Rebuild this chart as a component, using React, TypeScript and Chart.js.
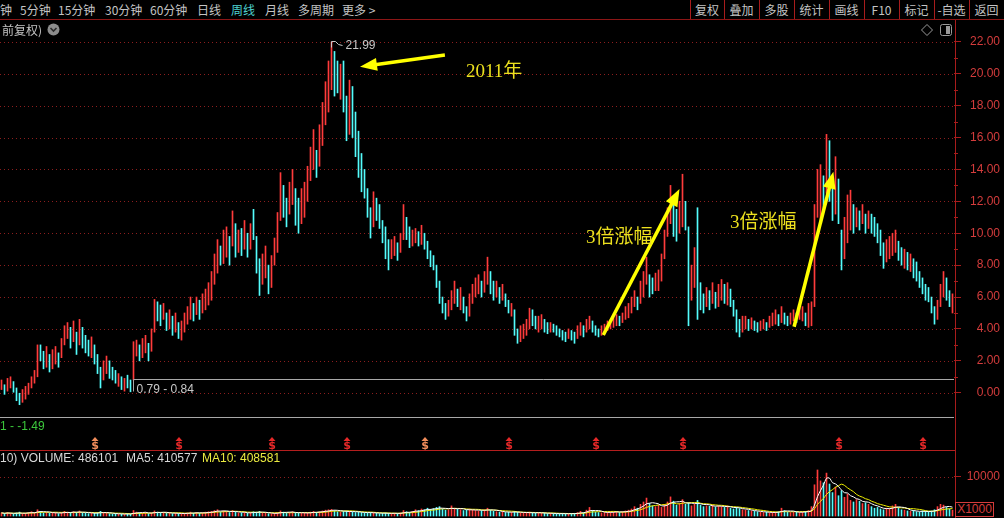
import React, { useEffect, useRef } from "react";
import { Chart, registerables } from "chart.js";

Chart.register(...registerables);

// ---------------- data (weekly, forward-adjusted) ----------------
const lows: number[] = [
  0.2, -0.1, 0.1, 0.3, 0.0, -0.5, -0.75, -0.6, -0.4, -0.1,
  0.3, 0.6, 1.0, 2.0, 1.5, 1.6, 1.3, 1.5, 1.8, 1.6,
  2.2, 3.0, 3.4, 2.8, 3.2, 2.4, 3.0, 2.8, 2.5, 2.3,
  2.2, 1.8, 1.2, 0.3, 0.8, 1.2, 0.9, 0.8, 0.6, 0.4,
  0.2, 0.1, 0.3, 0.06, 0.8, 2.3, 2.0, 2.2, 2.5, 2.0,
  2.6, 3.8, 4.5, 4.2, 4.6, 3.9, 4.0, 3.6, 3.8, 3.4,
  3.3, 3.8, 4.3, 4.6, 4.5, 4.9, 4.6, 5.0, 5.2, 5.5,
  5.8, 6.8, 7.5, 8.0, 8.1, 8.5, 8.0, 9.2, 8.5, 8.8,
  8.6, 9.0, 8.5, 9.0, 9.6, 7.5, 6.1, 6.8, 7.2, 6.2,
  6.6, 8.0, 8.8, 10.8, 11.0, 10.4, 11.2, 11.8, 10.5, 10.0,
  10.6, 11.0, 12.0, 13.3, 14.0, 13.5, 14.2, 15.5, 16.8, 17.6,
  19.0, 18.6, 18.8, 18.4, 17.6, 15.8, 16.2, 16.0, 14.8, 13.5,
  12.6, 12.2, 11.0, 9.7, 10.4, 10.8, 10.3, 9.4, 8.4, 7.7,
  8.4, 8.6, 8.3, 8.8, 9.6, 9.6, 9.1, 9.2, 9.4, 9.2,
  9.3, 9.0, 8.4, 7.9, 7.7, 6.6, 5.6, 5.0, 4.6, 4.8,
  5.2, 5.6, 5.4, 5.2, 5.0, 4.5, 4.8, 5.6, 6.0, 6.2,
  6.0, 6.3, 6.8, 6.2, 5.8, 6.0, 5.6, 5.8, 5.4, 5.0,
  4.8, 3.6, 3.1, 3.2, 3.4, 3.6, 4.0, 4.2, 4.0, 3.8,
  4.0, 3.8, 3.7, 3.8, 3.8, 3.6, 3.5, 3.3, 3.2, 3.4,
  3.3, 3.1, 3.4, 3.6, 3.5, 3.8, 4.0, 3.8, 3.6, 3.5,
  3.6, 3.8, 3.9, 4.0, 4.1, 4.2, 4.2, 4.4, 4.6, 4.7,
  5.0, 5.4, 5.2, 5.6, 6.0, 6.8, 6.0, 6.2, 6.4, 6.4,
  7.0, 8.4, 9.8, 10.6, 9.8, 9.5, 10.0, 10.4, 10.2, 4.2,
  5.8, 6.6, 4.6, 5.2, 5.0, 5.4, 5.2, 5.6, 5.3, 5.4,
  5.8, 5.6, 5.5, 5.4, 4.8, 3.8, 3.5, 3.8, 4.0, 3.9,
  4.0, 3.9, 3.8, 3.9, 4.0, 3.9, 4.1, 4.2, 4.3, 4.2,
  4.4, 4.3, 4.2, 4.3, 4.5, 4.4, 4.6, 4.5, 4.2, 4.1,
  4.2, 5.4, 11.0, 10.6, 11.4, 12.5, 12.0, 10.8, 11.2, 10.6,
  7.7, 8.4, 9.4, 10.2, 10.0, 10.4, 10.2, 10.6, 10.0, 10.3,
  10.0, 9.8, 9.4, 8.6, 7.8, 8.2, 8.4, 8.6, 8.8, 8.3,
  8.0, 7.8, 7.7, 7.6, 7.2, 7.0, 6.6, 6.2, 5.8, 5.7,
  5.0, 4.3, 4.6, 5.4, 6.0, 5.8, 5.4, 5.0,
];

const highs: number[] = [
  0.8, 0.5, 0.9, 1.0, 0.7, 0.3, 0.0, 0.2, 0.4, 0.6,
  1.0, 1.4, 3.0, 3.0, 2.6, 2.9, 2.4, 2.7, 2.9, 2.5,
  3.4, 4.2, 4.4, 4.1, 4.5, 3.8, 4.6, 4.1, 3.6, 3.3,
  3.5, 3.0, 2.4, 1.6, 2.0, 2.3, 2.0, 1.6, 1.4, 1.2,
  1.0, 0.9, 1.1, 0.8, 3.2, 3.3, 3.0, 3.4, 3.6, 3.1,
  4.0, 5.85, 5.7, 5.5, 5.6, 5.0, 5.2, 4.8, 5.0, 4.4,
  4.5, 5.0, 5.4, 6.0, 5.6, 6.0, 5.8, 6.2, 6.5, 6.9,
  7.6, 8.7, 9.6, 9.2, 10.2, 10.4, 9.8, 11.4, 10.6, 10.2,
  10.3, 10.8, 10.0, 10.6, 11.5, 9.8, 8.4, 8.7, 9.2, 8.0,
  8.6, 9.7, 11.3, 13.8, 13.0, 12.2, 13.2, 14.0, 12.8, 12.2,
  12.8, 13.2, 14.2, 15.4, 16.5, 15.2, 16.8, 18.2, 19.5, 20.8,
  21.99, 21.4, 20.8, 20.6, 20.8, 18.6, 19.6, 19.2, 17.6, 16.4,
  15.0, 14.0, 12.8, 11.6, 12.6, 12.2, 11.8, 10.8, 10.4, 9.6,
  9.6, 9.8, 9.4, 10.0, 11.8, 11.0, 10.4, 10.2, 10.3, 10.1,
  10.5, 10.0, 9.5, 8.9, 8.6, 8.0, 7.0, 6.0, 5.6, 5.8,
  6.4, 7.0, 6.5, 6.6, 6.0, 5.4, 6.2, 6.8, 7.2, 7.4,
  7.0, 7.6, 8.5, 7.6, 7.0, 7.0, 6.6, 6.8, 6.2, 5.8,
  5.6, 5.2, 4.0, 4.2, 4.3, 4.6, 5.3, 5.2, 4.8, 4.8,
  4.9, 4.6, 4.4, 4.4, 4.3, 4.2, 4.0, 3.9, 3.8, 4.0,
  3.9, 3.8, 4.2, 4.4, 4.2, 4.6, 4.8, 4.5, 4.2, 4.0,
  4.2, 4.3, 4.5, 4.6, 4.8, 4.9, 4.8, 5.0, 5.4, 5.6,
  6.0, 6.4, 6.0, 7.0, 7.6, 8.5, 7.4, 7.2, 7.5, 7.7,
  8.7, 10.2, 11.6, 13.0, 12.2, 11.5, 12.0, 13.7, 12.0, 10.4,
  8.0, 9.1, 11.6, 6.9, 6.2, 6.6, 6.4, 6.9, 6.3, 6.8,
  7.1, 6.8, 6.9, 6.5, 5.8, 5.2, 4.6, 4.8, 4.8, 4.6,
  4.7, 4.5, 4.4, 4.5, 4.6, 4.4, 4.8, 5.0, 5.2, 4.9,
  5.4, 5.0, 4.8, 5.0, 5.2, 5.0, 5.3, 5.4, 5.0, 5.6,
  5.7, 11.8, 14.0, 14.3, 13.6, 16.2, 15.8, 13.6, 14.8, 13.4,
  10.2, 11.0, 12.4, 12.7, 11.8, 11.6, 11.4, 11.8, 11.2, 11.4,
  11.2, 11.0, 10.6, 10.2, 9.4, 9.6, 9.8, 10.0, 10.2, 9.5,
  9.1, 9.0, 8.8, 8.7, 8.4, 8.2, 7.6, 7.2, 6.8, 6.6,
  6.0, 5.4, 5.8, 6.8, 7.6, 7.2, 6.4, 6.2,
];

// u = rising week (red), d = falling week (cyan)
const dirs: string = [
  "uduuddduuu", "uuudduduud", "uuudududdd", "uddduudddu", "dudduuduud",
  "uuddududud", "uuuududuuu", "uuuduududu", "dududdduud", "uuuudduudd",
  "uuuuuduuuu", "uddudduddd", "dddduddddd", "uuduudduud", "uddddddddu",
  "uududduuuu", "duuddududd", "udduuuuddu", "uddudddddu", "dduuduuddd",
  "uuuuuuduuu", "uuduuudduu", "uuuudduudd", "uudddududu", "ududddduud",
  "udduuduuud", "udduuduudu", "uuuududdud", "duuudududu", "ddddduuuud",
  "dududddddd", "dduuuddu",
].join("");

// weekly volume, in units of 1000 (axis marked X1000)
const volumes: number[] = [
  0.8, 0.6, 0.9, 0.7, 0.5, 0.8, 1.0, 0.6, 0.7, 0.9,
  1.1, 0.9, 1.6, 1.2, 0.8, 0.9, 0.7, 0.8, 0.9, 0.6,
  0.9, 1.2, 1.0, 0.8, 1.1, 0.9, 1.3, 0.8, 0.7, 0.6,
  0.7, 0.8, 0.9, 1.2, 0.8, 0.7, 0.6, 0.5, 0.6, 0.5,
  0.5, 0.4, 0.6, 0.5, 1.4, 1.0, 0.8, 0.7, 0.9, 0.6,
  0.8, 1.3, 1.0, 0.8, 0.9, 0.7, 0.8, 0.6, 0.7, 0.6,
  0.6, 0.7, 0.8, 1.0, 0.7, 0.9, 0.7, 0.8, 1.0, 1.1,
  1.2, 1.4, 1.6, 1.0, 1.3, 1.2, 0.9, 1.4, 1.0, 0.8,
  0.8, 0.9, 0.7, 0.9, 1.1, 1.0, 1.2, 0.8, 0.7, 0.6,
  0.6, 0.7, 0.9, 1.3, 1.0, 0.8, 0.9, 1.1, 0.8, 0.7,
  0.7, 0.8, 0.9, 1.0, 1.2, 0.9, 1.1, 1.3, 1.5, 1.6,
  1.7, 1.4, 1.1, 1.0, 1.2, 1.3, 1.2, 1.0, 0.9, 1.0,
  0.9, 0.8, 0.8, 0.9, 0.8, 0.7, 0.6, 0.7, 0.8, 0.7,
  0.6, 0.7, 0.6, 0.8, 1.4, 1.1, 0.9, 1.2, 1.6, 1.4,
  1.8, 1.6, 2.0, 1.7, 1.9, 2.2, 2.4, 1.8, 1.5, 1.6,
  2.6, 2.0, 1.7, 1.6, 1.4, 1.5, 1.8, 1.6, 1.4, 1.3,
  1.4, 1.6, 2.0, 1.5, 1.2, 1.1, 1.0, 1.1, 0.9, 1.0,
  0.9, 1.2, 1.0, 0.8, 0.7, 0.8, 1.0, 0.9, 0.7, 0.8,
  0.7, 0.8, 0.6, 0.7, 0.6, 0.5, 0.6, 0.7, 0.6, 0.5,
  0.6, 0.7, 0.9, 1.2, 0.8, 1.5, 2.2, 1.4, 1.0, 0.9,
  0.8, 0.9, 1.0, 1.1, 1.0, 1.2, 0.9, 1.1, 1.3, 1.5,
  1.8, 2.4, 2.0, 3.0, 3.6, 4.6, 3.2, 2.6, 2.4, 2.8,
  2.2, 3.0, 3.6, 4.9, 3.8, 2.8, 3.2, 4.2, 3.0, 3.4,
  2.6, 3.0, 4.0, 2.8, 2.4, 2.6, 2.5, 2.8, 2.3, 2.6,
  2.4, 2.2, 2.6, 2.0, 1.8, 2.2, 1.9, 1.6, 1.5, 1.4,
  1.3, 1.2, 1.1, 1.0, 0.9, 1.0, 0.8, 0.9, 1.0, 1.1,
  2.0, 1.4, 1.0, 0.9, 1.0, 1.1, 0.9, 1.0, 1.2, 1.4,
  2.4, 8.0, 11.8, 9.0, 8.5, 11.0, 8.2, 6.0, 7.4, 5.2,
  6.5, 4.8, 5.6, 4.0, 3.6, 4.2, 3.8, 3.2, 3.4, 3.0,
  2.4, 2.0, 2.2, 1.8, 1.6, 2.0, 1.9, 2.6, 3.0, 2.2,
  1.6, 1.5, 1.3, 1.2, 1.4, 1.1, 1.0, 1.3, 1.2, 1.1,
  1.3, 1.6, 2.4, 3.0, 2.8, 2.2, 1.8, 1.5,
];

const priceTicks = [0, 2, 4, 6, 8, 10, 12, 14, 16, 18, 20, 22];
const volumeTicks = [10];

const dividendIdx = [31, 59, 90, 115, 141, 169, 198, 227, 279, 307];
const dividendKind = ["o", "r", "r", "r", "o", "r", "r", "r", "r", "r"];

const peakIdx = 110;
const peakText = "21.99";
const rangeIdx = 44;
const rangeValue = 0.84;
const rangeText = "0.79 - 0.84";
const floorValue = -1.49;
const floorText = "1 - -1.49";

// annotation arrows / notes in (week index, price)
const arrowFrom = [[147.8, 21.17], [200.6, 3.62], [264.2, 4.14]];
const arrowTo = [[119.5, 20.44], [226.0, 12.77], [277.3, 13.86]];
const noteTexts = ["2011年", "3倍涨幅", "3倍涨幅"];
const noteAt = [[154.8, 20.1], [194.8, 9.7], [242.8, 10.64]];

const periodTabs = ["钟", "5分钟", "15分钟", "30分钟", "60分钟", "日线", "周线", "月线", "多周期", "更多 >"];
const activeTab = "周线";
const toolButtons = ["复权", "叠加", "多股", "统计", "画线", "F10", "标记", "-自选", "返回"];
const volHeader = { volume: 486101, ma5: 410577, ma10: 408581 };

// ---------------- layout / style ----------------
const UP = "#ff3b3b";
const DOWN = "#54fcfc";
const AXIS_RED = "#a81c1c";
const LABEL_RED = "#d43c3c";
const GRID_RED = "#8c1e1e";
const tabX = [0, 20, 58, 105, 150, 197, 231, 265, 298, 342];
const sepX = [690, 724, 759, 794, 829, 864, 899, 934, 969, 1004];

const labels = lows.map((_, i) => String(i));
const candleColors = lows.map((_, i) => (dirs[i] === "u" ? UP : DOWN));

function movingAvg(arr: number[], n: number) {
  return arr.map((_, i) => {
    const s = Math.max(0, i - n + 1);
    let t = 0;
    for (let k = s; k <= i; k++) t += arr[k];
    return t / (i - s + 1);
  });
}

function drawArrow(ctx: CanvasRenderingContext2D, x1: number, y1: number, x2: number, y2: number) {
  const ang = Math.atan2(y2 - y1, x2 - x1);
  const L = 17, W = 6.5;
  const bx = x2 - L * Math.cos(ang);
  const by = y2 - L * Math.sin(ang);
  ctx.strokeStyle = "#ffff00";
  ctx.fillStyle = "#ffff00";
  ctx.lineWidth = 3.5;
  ctx.lineCap = "butt";
  ctx.beginPath();
  ctx.moveTo(x1, y1);
  ctx.lineTo(bx + Math.cos(ang) * 2, by + Math.sin(ang) * 2);
  ctx.stroke();
  ctx.beginPath();
  ctx.moveTo(x2, y2);
  ctx.lineTo(bx - W * Math.sin(ang), by + W * Math.cos(ang));
  ctx.lineTo(bx + W * Math.sin(ang), by - W * Math.cos(ang));
  ctx.closePath();
  ctx.fill();
}

const priceDecor = {
  id: "priceDecor",
  beforeDatasetsDraw(chart: any) {
    const { ctx, chartArea: a, scales } = chart;
    const y = scales.y;
    ctx.save();
    ctx.strokeStyle = GRID_RED;
    ctx.lineWidth = 1;
    ctx.setLineDash([1, 3]);
    priceTicks.forEach((v) => {
      const py = Math.round(y.getPixelForValue(v)) + 0.5;
      ctx.beginPath();
      ctx.moveTo(a.left, py);
      ctx.lineTo(a.right, py);
      ctx.stroke();
    });
    ctx.restore();
  },
  afterDatasetsDraw(chart: any) {
    const { ctx, chartArea: a, scales } = chart;
    const x = scales.x, y = scales.y;
    ctx.save();
    // minor ticks
    ctx.strokeStyle = AXIS_RED;
    ctx.lineWidth = 1;
    for (let v = 1; v < 23; v += 2) {
      const py = Math.round(y.getPixelForValue(v)) + 0.5;
      ctx.beginPath();
      ctx.moveTo(a.right, py);
      ctx.lineTo(a.right + 4, py);
      ctx.stroke();
    }
    // range lines
    ctx.strokeStyle = "#a8a8a8";
    const ry = Math.round(y.getPixelForValue(rangeValue)) + 0.5;
    const rx = Math.round(x.getPixelForValue(rangeIdx)) - 0.5;
    ctx.beginPath();
    ctx.moveTo(rx, ry + 12);
    ctx.lineTo(rx, ry);
    ctx.lineTo(a.right, ry);
    ctx.stroke();
    const fy = Math.round(y.getPixelForValue(floorValue)) + 0.5;
    ctx.beginPath();
    ctx.moveTo(a.left, fy);
    ctx.lineTo(a.right, fy);
    ctx.stroke();
    ctx.font = '12px "Liberation Sans", Arial, sans-serif';
    ctx.textBaseline = "middle";
    ctx.textAlign = "left";
    ctx.fillStyle = "#c8c8c8";
    ctx.fillText(rangeText, rx + 3, ry + 10);
    ctx.fillStyle = "#3cc83c";
    ctx.fillText(floorText, a.left, fy + 9);
    // peak flag
    const px = Math.round(x.getPixelForValue(peakIdx)) - 0.5;
    const py = Math.round(y.getPixelForValue(highs[peakIdx])) + 0.5;
    ctx.strokeStyle = "#c8c8c8";
    ctx.beginPath();
    ctx.moveTo(px, py + 5);
    ctx.lineTo(px, py - 1);
    ctx.lineTo(px + 4, py - 1);
    ctx.lineTo(px + 7, py + 2);
    ctx.lineTo(px + 11, py + 3);
    ctx.stroke();
    ctx.fillStyle = "#c8c8c8";
    ctx.fillText(peakText, px + 14, py + 3);
    // arrows
    arrowFrom.forEach((f, i) => {
      const t = arrowTo[i];
      drawArrow(ctx, x.getPixelForValue(f[0]), y.getPixelForValue(f[1]), x.getPixelForValue(t[0]), y.getPixelForValue(t[1]));
    });
    // notes
    ctx.fillStyle = "#ece01e";
    ctx.font = '19px "Liberation Serif", "Noto Sans CJK SC", serif';
    ctx.textBaseline = "middle";
    noteTexts.forEach((s, i) => {
      ctx.fillText(s, x.getPixelForValue(noteAt[i][0]), y.getPixelForValue(noteAt[i][1]));
    });
    // dividend markers
    ctx.font = 'bold 11px "DejaVu Sans", sans-serif';
    ctx.textAlign = "center";
    ctx.textBaseline = "alphabetic";
    dividendIdx.forEach((d, i) => {
      const mx = Math.round(x.getPixelForValue(d));
      const col = dividendKind[i] === "o" ? "#f08c5a" : "#e62828";
      ctx.fillStyle = col;
      const top = a.bottom - 13;
      ctx.beginPath();
      ctx.moveTo(mx, top);
      ctx.lineTo(mx - 3.5, top + 4);
      ctx.lineTo(mx + 3.5, top + 4);
      ctx.closePath();
      ctx.fill();
      ctx.fillText("$", mx, a.bottom - 1.5);
    });
    ctx.restore();
  },
};

const volDecor = {
  id: "volDecor",
  beforeDatasetsDraw(chart: any) {
    const { ctx, chartArea: a, scales } = chart;
    const y = scales.y;
    ctx.save();
    ctx.strokeStyle = GRID_RED;
    ctx.lineWidth = 1;
    ctx.setLineDash([1, 3]);
    volumeTicks.forEach((v) => {
      const py = Math.round(y.getPixelForValue(v)) + 0.5;
      ctx.beginPath();
      ctx.moveTo(a.left, py);
      ctx.lineTo(a.right, py);
      ctx.stroke();
    });
    ctx.restore();
  },
};

function rightAxis(min: number, max: number, ticks: number[], fmt: (v: number) => string) {
  return {
    position: "right" as const,
    min,
    max,
    afterFit: (s: any) => {
      s.width = 46;
      s.paddingTop = 0;
      s.paddingBottom = 0;
    },
    afterBuildTicks: (s: any) => {
      s.ticks = ticks.map((v) => ({ value: v }));
    },
    ticks: {
      color: LABEL_RED,
      font: { family: '"Liberation Sans", Arial, sans-serif', size: 12 },
      crossAlign: "far" as const,
      autoSkip: false,
      callback: (v: any) => fmt(Number(v)),
    },
    grid: { drawOnChartArea: false, drawTicks: true, tickLength: 7, tickColor: AXIS_RED, color: AXIS_RED },
    border: { display: false },
  };
}

export default function App() {
  const priceRef = useRef<HTMLCanvasElement>(null);
  const volRef = useRef<HTMLCanvasElement>(null);

  useEffect(() => {
    document.body.style.margin = "0";
    document.body.style.background = "#000";
    const pc = new Chart(priceRef.current as HTMLCanvasElement, {
      type: "bar",
      data: {
        labels,
        datasets: [
          {
            data: lows.map((l, i) => [l, highs[i]]) as any,
            backgroundColor: candleColors,
            barThickness: 1,
            borderWidth: 0,
            borderSkipped: false,
          },
        ],
      },
      options: {
        animation: false,
        responsive: false,
        devicePixelRatio: 1,
        events: [],
        layout: { padding: { left: 0, right: 4, top: 0, bottom: 0 } },
        plugins: { legend: { display: false }, tooltip: { enabled: false } },
        scales: {
          x: { display: false, offset: true },
          y: rightAxis(-3.59, 23.37, priceTicks, (v) => v.toFixed(2)) as any,
        },
      },
      plugins: [priceDecor],
    });

    const ma5 = movingAvg(volumes, 5);
    const ma10 = movingAvg(volumes, 10);
    const vc = new Chart(volRef.current as HTMLCanvasElement, {
      type: "bar",
      data: {
        labels,
        datasets: [
          {
            type: "line",
            data: ma5,
            borderColor: "#ffffff",
            borderWidth: 1,
            pointRadius: 0,
            tension: 0.3,
            order: 0,
          } as any,
          {
            type: "line",
            data: ma10,
            borderColor: "#f0f000",
            borderWidth: 1,
            pointRadius: 0,
            tension: 0.3,
            order: 1,
          } as any,
          {
            type: "bar",
            data: volumes,
            backgroundColor: candleColors,
            barThickness: 1,
            borderWidth: 0,
            order: 2,
          } as any,
        ],
      },
      options: {
        animation: false,
        responsive: false,
        devicePixelRatio: 1,
        events: [],
        layout: { padding: { left: 0, right: 4, top: 0, bottom: 0 } },
        plugins: { legend: { display: false }, tooltip: { enabled: false } },
        scales: {
          x: { display: false, offset: true },
          y: rightAxis(-0.51, 16.92, volumeTicks, (v) => String(Math.round(v * 1000))) as any,
        },
      },
      plugins: [volDecor],
    });
    return () => {
      pc.destroy();
      vc.destroy();
    };
  }, []);

  const cjk = '"Noto Sans CJK SC", "Liberation Sans", sans-serif';

  return (
    <div style={{ position: "fixed", left: 0, top: 0, width: 1004, height: 518, background: "#000", overflow: "hidden" }}>
      <canvas ref={priceRef} width={1004} height={430} style={{ position: "absolute", left: 0, top: 20, width: 1004, height: 430 }} />
      <canvas ref={volRef} width={1004} height={68} style={{ position: "absolute", left: 0, top: 450, width: 1004, height: 68 }} />

      {/* toolbar */}
      {periodTabs.map((t, i) => (
        <div key={t + i} style={{ position: "absolute", left: tabX[i], top: 0, height: 19, lineHeight: "19px", fontFamily: cjk, fontSize: 12, color: t === activeTab ? "#4ed2d2" : "#c4c4c4", whiteSpace: "nowrap" }}>{t}</div>
      ))}
      {toolButtons.map((t, i) => (
        <div key={t} style={{ position: "absolute", left: sepX[i], top: 0, width: sepX[i + 1] - sepX[i], height: 19, lineHeight: "19px", textAlign: "center", fontFamily: cjk, fontSize: 12, color: "#c4c4c4", whiteSpace: "nowrap" }}>{t}</div>
      ))}
      {sepX.slice(0, 9).map((x) => (
        <div key={"s" + x} style={{ position: "absolute", left: x, top: 0, width: 1, height: 19, background: AXIS_RED }} />
      ))}
      <div style={{ position: "absolute", left: 0, top: 19, width: 1004, height: 1, background: "#8c1616" }} />

      {/* second row */}
      <div style={{ position: "absolute", left: 2, top: 21, height: 17, lineHeight: "17px", fontFamily: cjk, fontSize: 12, color: "#c4c4c4", whiteSpace: "nowrap" }}>前复权)</div>
      <svg style={{ position: "absolute", left: 47, top: 23 }} width={13} height={13}>
        <circle cx={6.5} cy={6.5} r={6} fill="#8c8c8c" />
        <polyline points="3.5,5 6.5,8 9.5,5" fill="none" stroke="#2a2a2a" strokeWidth={1.6} />
      </svg>
      <svg style={{ position: "absolute", left: 921, top: 24 }} width={12} height={12}>
        <polygon points="6,0.5 11.5,6 6,11.5 0.5,6" fill="none" stroke="#9a9a9a" strokeWidth={1} />
      </svg>
      <svg style={{ position: "absolute", left: 940, top: 24 }} width={12} height={12}>
        <rect x={0.5} y={0.5} width={11} height={11} rx={2} fill="none" stroke="#9a9a9a" strokeWidth={1} />
        <rect x={6} y={2} width={4} height={8} fill="#9a9a9a" />
      </svg>

      {/* axis line and panel separator */}
      <div style={{ position: "absolute", left: 955, top: 20, width: 1, height: 498, background: AXIS_RED }} />
      <div style={{ position: "absolute", left: 0, top: 450, width: 955, height: 1, background: "#b41e1e" }} />

      {/* volume header */}
      <div style={{ position: "absolute", left: 0, top: 451, height: 15, lineHeight: "15px", fontFamily: '"Liberation Sans", Arial, sans-serif', fontSize: 12, color: "#d8d8d8", whiteSpace: "nowrap" }}>{"10) VOLUME: " + volHeader.volume}</div>
      <div style={{ position: "absolute", left: 126, top: 451, height: 15, lineHeight: "15px", fontFamily: '"Liberation Sans", Arial, sans-serif', fontSize: 12, color: "#d8d8d8", whiteSpace: "nowrap" }}>{"MA5: " + volHeader.ma5}</div>
      <div style={{ position: "absolute", left: 202, top: 451, height: 15, lineHeight: "15px", fontFamily: '"Liberation Sans", Arial, sans-serif', fontSize: 12, color: "#eaea40", whiteSpace: "nowrap" }}>{"MA10: " + volHeader.ma10}</div>

      {/* X1000 box */}
      <div style={{ position: "absolute", left: 955, top: 502, width: 37, height: 13, border: "1px solid " + LABEL_RED, background: "#000", color: LABEL_RED, fontFamily: '"Liberation Sans", Arial, sans-serif', fontSize: 12, lineHeight: "13px", textAlign: "center" }}>X1000</div>
    </div>
  );
}
